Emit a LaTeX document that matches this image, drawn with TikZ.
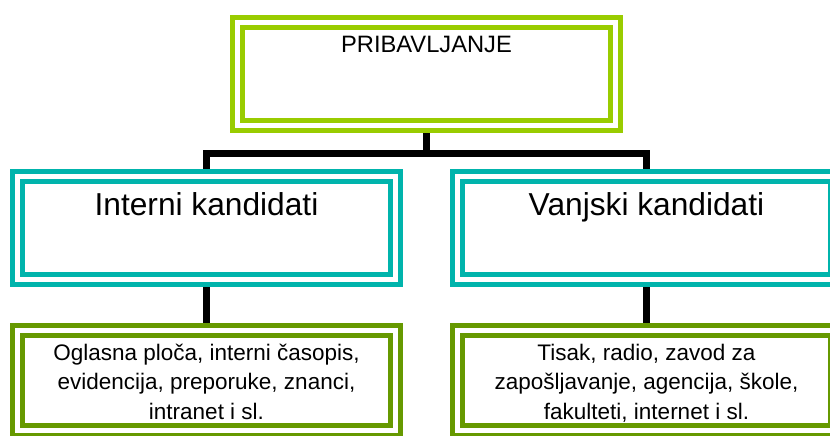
\documentclass[tikz,border=0pt]{standalone}
\usepackage{fontspec}
\setmainfont{Liberation Sans}
\usetikzlibrary{backgrounds}
\definecolor{limegreen}{RGB}{153,204,0}
\definecolor{tealc}{RGB}{0,180,172}
\definecolor{darkgreenc}{RGB}{102,153,0}
\begin{document}
\begin{tikzpicture}[x=1pt,y=-1pt,
  box/.style={draw=#1, double=white, line width=5pt, double distance=5pt,
    fill=white, minimum width=378pt, minimum height=103pt, inner sep=0pt, outer sep=0pt},
  conn/.style={line width=6.5pt, draw=black},
  toptxt/.style={anchor=base, font=\fontsize{23.7}{28}\selectfont},
  midtxt/.style={anchor=base, font=\fontsize{31.7}{36}\selectfont},
  bottxt/.style={anchor=base, align=center, font=\fontsize{22.5}{29.5}\selectfont}]
\clip (0,0) rectangle (830,436);
\useasboundingbox (0,0) rectangle (830,436);
\node[box=limegreen] (top) at (426.5,74) {};
\node[box=tealc] (int) at (206.5,228) {};
\node[box=tealc] (ext) at (646.5,228) {};
\node[box=darkgreenc, minimum height=100pt] (intsrc) at (206.5,380.5) {};
\node[box=darkgreenc, minimum height=100pt] (extsrc) at (646.5,380.5) {};
\node[toptxt] (ttop) at ([yshift=-30.5pt]top.north) {PRIBAVLJANJE};
\node[midtxt] (tint) at ([yshift=-38.5pt]int.north) {Interni kandidati};
\node[midtxt] (text) at ([yshift=-38.5pt]ext.north) {Vanjski kandidati};
\node[bottxt] (tintsrc) at ([yshift=-88.5pt]intsrc.north) {Oglasna ploča, interni časopis,\\evidencija, preporuke, znanci,\\intranet i sl.};
\node[bottxt] (textsrc) at ([yshift=-88.5pt]extsrc.north) {Tisak, radio, zavod za\\zapošljavanje, agencija, škole,\\fakulteti, internet i sl.};
\coordinate (hub) at (426.5,153.5);
\begin{scope}[on background layer]
\draw[conn] (top) -- (hub);
\draw[conn] (hub) -| (int);
\draw[conn] (hub) -| (ext);
\draw[conn] (int) -- (intsrc);
\draw[conn] (ext) -- (extsrc);
\end{scope}
\end{tikzpicture}
\end{document}
